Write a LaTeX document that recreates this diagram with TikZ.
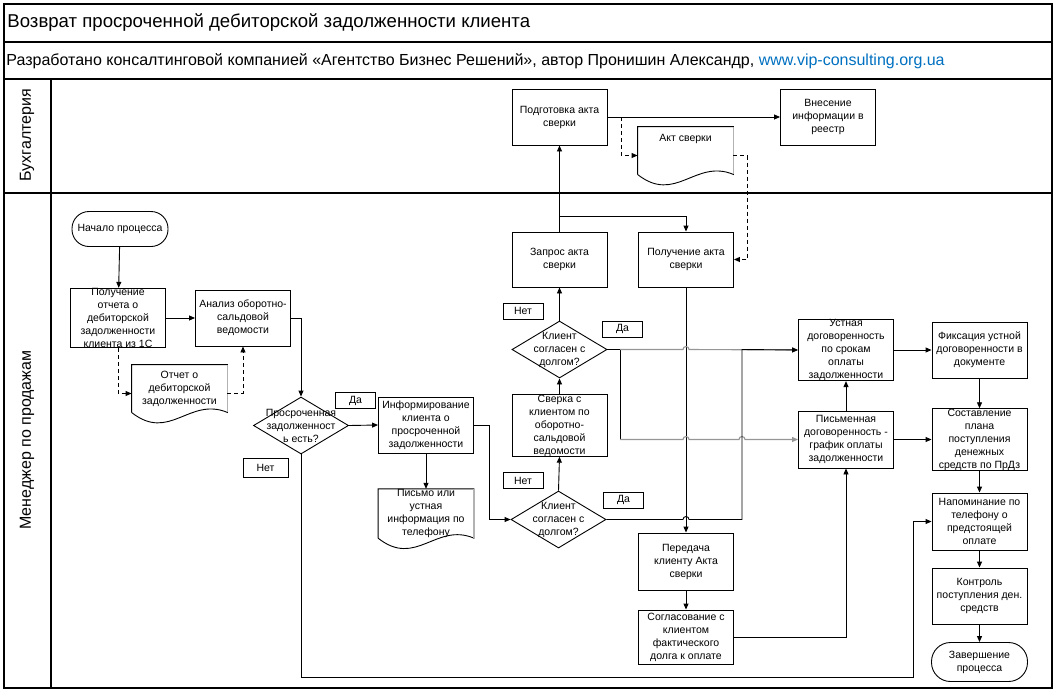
\documentclass[tikz,border=0pt]{standalone}
\usepackage{fontspec}
\setmainfont{Liberation Sans}
\usetikzlibrary{shapes.geometric,arrows.meta,positioning}
\definecolor{linkblue}{RGB}{0,112,192}
\definecolor{hopgray}{RGB}{150,150,150}
\newcommand{\boxfont}{\fontsize{10.5}{13}\selectfont}
% document shape drawn round a plain node
\newcommand{\wavedoc}[1]{%
  \draw (#1.south west) -- (#1.north west) -- (#1.north east) -- (#1.south east)
    .. controls ([xshift=-38pt,yshift=16pt]#1.south east) and ([xshift=38pt,yshift=-30pt]#1.south west) .. (#1.south west);
  \draw[gray!60, line width=1.2pt] (#1.north east) -- (#1.south east);}
\tikzset{
  proc/.style={rectangle, draw, minimum width=95pt, minimum height=56pt,
    inner sep=0pt, align=center, font=\boxfont},
  term/.style={rectangle, draw, rounded corners=17pt, minimum width=96pt,
    minimum height=35pt, inner sep=0pt, align=center, font=\boxfont},
  decis/.style={diamond, draw, minimum width=95pt, minimum height=57pt, inner sep=0pt},
  dtext/.style={align=center, font=\boxfont, inner sep=0pt},
  docnode/.style={rectangle, minimum width=95pt, minimum height=47pt,
    inner sep=0pt, align=center, font=\boxfont},
  ans/.style={rectangle, draw, minimum width=40pt, minimum height=16pt,
    inner sep=0pt, font=\boxfont},
  arr/.style={-{Triangle[length=6pt,width=5pt]}},
  dline/.style={dashed, dash pattern=on 4pt off 3pt},
  hopline/.style={draw=hopgray, line width=1.1pt}
}

\begin{document}
\begin{tikzpicture}[x=1pt, y=-1pt, line width=0.9pt]
  \useasboundingbox (0,0) rectangle (1060,696);
  % frame and lanes
  \draw[line width=1.2pt] (4,4) rectangle (1052,688);
  \draw[line width=1.2pt] (4,42) -- (1052,42);
  \draw[line width=1.2pt] (4,79) -- (1052,79);
  \draw[line width=1.2pt] (4,193) -- (1052,193);
  \draw[line width=1.2pt] (51,79) -- (51,688);
  \node[anchor=west, inner sep=0pt, font=\fontsize{18.6}{20}\selectfont] (title) at (7,23)
    {Возврат просроченной дебиторской задолженности клиента};
  \node[anchor=west, inner sep=0pt, font=\fontsize{16}{18}\selectfont] (author) at (6,61)
    {Разработано консалтинговой компанией «Агентство Бизнес Решений», автор Пронишин Александр, \textcolor{linkblue}{www.vip-consulting.org.ua}};
  \node[rotate=90, font=\fontsize{16}{18}\selectfont] (lanebuh) at (27,135) {Бухгалтерия};
  \node[rotate=90, font=\fontsize{16}{18}\selectfont] (laneman) at (27,440) {Менеджер по продажам};

  % start, report, analysis
  \node[term] (start) at (120,229) {Начало процесса};
  \node[proc] (poluch1c) at (118,318) {Получение\\отчета о\\дебиторской\\задолженности\\клиента из 1С};
  \node[proc] (analiz) at (243,318) {Анализ оборотно-\\сальдовой\\ведомости};
  \node[docnode] (otchet) at (179.5,388.5) {Отчет о\\дебиторской\\задолженности};
  \wavedoc{otchet}
  \node[decis] (d0) at (301,425.5) {};
  \node[dtext] (d0t) at (d0) {Просроченная\\задолженност\\ь есть?};
  \node[ans] (yes0) at (355.5,400.5) {Да};
  \node[ans, minimum width=45pt, minimum height=19pt] (no0) at (265.5,467.5) {Нет};

  % informing the client
  \node[proc] (inform) at (426,425) {Информирование\\клиента о\\просроченной\\задолженности};
  \node[docnode] (pismo) at (426,513.5) {Письмо или\\устная\\информация по\\телефону};
  \wavedoc{pismo}
  \node[decis] (d2) at (558.5,519.5) {};
  \node[dtext] (d2t) at (d2) {Клиент\\согласен с\\долгом?};
  \node[ans] (no2) at (523,480.5) {Нет};
  \node[ans] (yes2) at (623.5,500) {Да};
  \node[proc] (sverka) at (559.5,425.5) {Сверка с\\клиентом по\\оборотно-\\сальдовой\\ведомости};
  \node[decis] (d1) at (559.5,349.5) {};
  \node[dtext] (d1t) at (d1) {Клиент\\согласен с\\долгом?};
  \node[ans] (no1) at (523,311) {Нет};
  \node[ans] (yes1) at (622.5,329) {Да};

  % act of reconciliation
  \node[proc, minimum height=55pt] (zapros) at (559.5,259.5) {Запрос акта\\сверки};
  \node[proc, minimum height=55pt] (poluchakt) at (686,259.5) {Получение акта\\сверки};
  \node[proc] (podgot) at (559.5,117) {Подготовка акта\\сверки};
  \node[proc] (vnesen) at (828,117) {Внесение\\информации в\\реестр};
  \node[docnode] (akt) at (685.5,150.5) {Акт сверки\\[12pt]};
  \wavedoc{akt}
  \node[proc, minimum height=57pt] (peredacha) at (686,561.5) {Передача\\клиенту Акта\\сверки};
  \node[proc, minimum height=54pt] (soglas) at (686,637) {Согласование с\\клиентом\\фактического\\долга к оплате};

  % agreements and control
  \node[proc] (ustn) at (846,350) {Устная\\договоренность\\по срокам\\оплаты\\задолженности};
  \node[proc, minimum height=57pt] (pism) at (846,439.5) {Письменная\\договоренность -\\график оплаты\\задолженности};
  \node[proc] (fiks) at (979.5,350) {Фиксация устной\\договоренности в\\документе};
  \node[proc, minimum height=57pt] (plan) at (979.5,439.5) {Составление\\плана\\поступления\\денежных\\средств по ПрДз};
  \node[proc, minimum height=57pt] (napom) at (979.5,521.5) {Напоминание по\\телефону о\\предстоящей\\оплате};
  \node[proc] (kontrol) at (979.5,596) {Контроль\\поступления ден.\\средств};
  \node[term, minimum height=39pt, rounded corners=19pt] (fin) at (979.5,662) {Завершение\\процесса};

  % connectors
  \draw[arr] (start) -- (poluch1c);
  \draw[arr] (poluch1c) -- (analiz);
  \draw[dline, arr] (poluch1c.south) |- ([yshift=-5pt]otchet.west);
  \draw[dline, arr] ([yshift=-5pt]otchet.east) -| (analiz.south);
  \draw[arr] (analiz.east) -| (d0.north);
  \draw[arr] (d0.east) -- (inform.west);
  \draw[arr] (d0.south) |- (913,677) |- (napom.west);
  \draw[arr] (inform.south) -- (pismo.north);
  \draw[arr] (inform.east) -- ++(15,0) |- (d2.west);
  \draw[arr] (d2.north) -- (sverka.south);
  \draw[arr] (sverka.north) -- (d1.south);
  \draw[arr] (d1.north) -- (zapros.south);
  \draw[arr] (zapros.north) -- (podgot.south);
  \coordinate (brA) at (559.5,216);
  \draw[arr] (brA) -| (poluchakt.north);
  \draw[arr] (podgot.east) -- (vnesen.west);
  \draw[dline, arr] ([xshift=14pt]podgot.east) |- ([yshift=-5pt]akt.west);
  \draw[dline, arr] ([yshift=-5pt]akt.east) -- ++(14,0) |- (poluchakt.east);
  \draw[arr] (poluchakt.south) -- (peredacha.north);
  \draw[arr] (peredacha) -- (soglas);
  \draw[arr] (soglas.east) -| (pism.south);
  \draw[arr] (pism) -- (ustn);
  \draw[arr] (ustn) -- (fiks);
  \draw[arr] (pism) -- (plan);
  \draw[arr] (fiks) -- (plan);
  \draw[arr] (plan) -- (napom);
  \draw[arr] (napom) -- (kontrol);
  \draw[arr] (kontrol) -- (fin);
  % "Да" branches with line hops
  \coordinate (j1) at (620,349.5);
  \coordinate (j2) at (620,439.5);
  \draw (d1.east) -- (j1) -- (j2);
  \draw[hopline, arr] (j1) -- (683,349.5) arc[start angle=180, end angle=360, radius=3] -- (ustn.west);
  \draw[hopline, arr] (j2) -- (683,439.5) arc[start angle=180, end angle=360, radius=3]
    -- (739,439.5) arc[start angle=180, end angle=360, radius=3] -- (pism.west);
  \draw[arr] (d2.east) -- (683,519.5) arc[start angle=180, end angle=360, radius=3]
    -- (742,519.5) -- (742,349.5) -- (ustn.west);
\end{tikzpicture}
\end{document}
